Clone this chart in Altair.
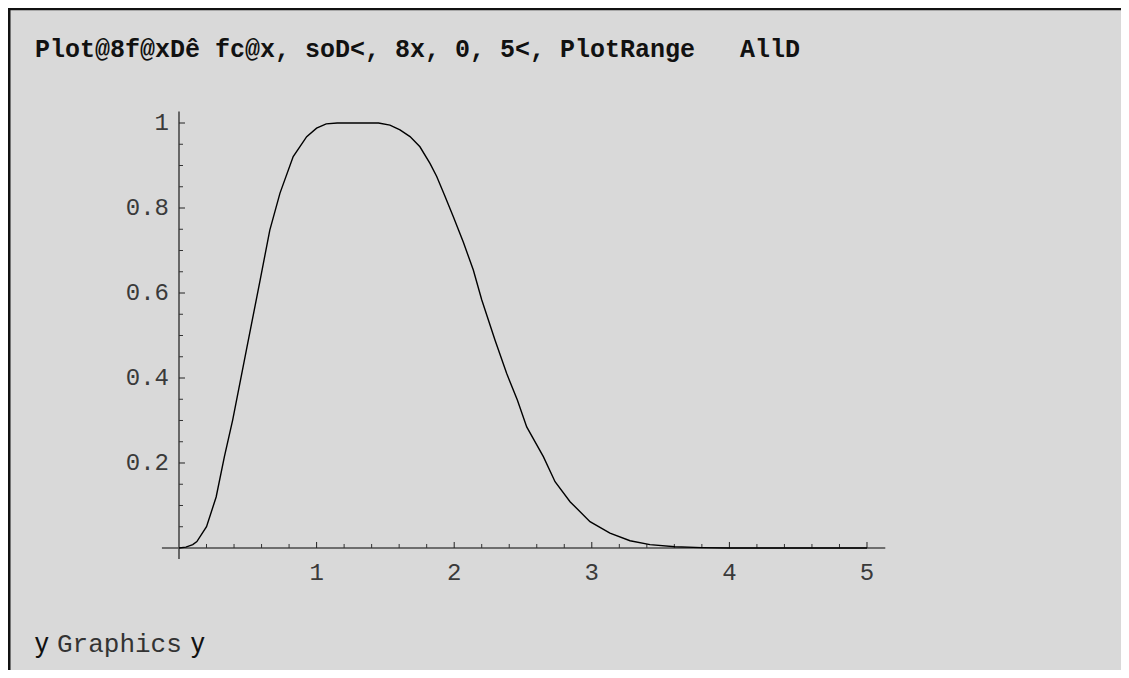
import altair as alt
import pandas as pd

# ---- data ----
curve_x = [0, 0.05, 0.1, 0.13, 0.2, 0.27, 0.33, 0.39, 0.49, 0.59, 0.66, 0.734, 0.83, 0.928,
           1.0, 1.07, 1.15, 1.25, 1.35, 1.45, 1.533, 1.606, 1.679, 1.751, 1.824, 1.873, 1.93,
           1.993, 2.066, 2.139, 2.2, 2.297, 2.381, 2.459, 2.527, 2.648, 2.733, 2.842, 2.987,
           3.132, 3.278, 3.423, 3.605, 3.8, 4.0, 4.5, 5.0]
curve_y = [0, 0.002, 0.008, 0.015, 0.05, 0.12, 0.215, 0.301, 0.466, 0.631, 0.748, 0.835, 0.921, 0.968,
           0.988, 0.998, 1.0, 1.0, 1.0, 1.0, 0.995, 0.984, 0.968, 0.944, 0.905, 0.874, 0.83,
           0.78, 0.72, 0.654, 0.584, 0.489, 0.411, 0.348, 0.285, 0.215, 0.156, 0.109, 0.062,
           0.035, 0.017, 0.008, 0.003, 0.001, 0.0, 0.0, 0.0]

x_major = [1, 2, 3, 4, 5]
x_major_labels = ["1", "2", "3", "4", "5"]
x_minor = [0.2, 0.4, 0.6, 0.8, 1.2, 1.4, 1.6, 1.8, 2.2, 2.4, 2.6, 2.8,
           3.2, 3.4, 3.6, 3.8, 4.2, 4.4, 4.6, 4.8]
y_major = [0.2, 0.4, 0.6, 0.8, 1.0]
y_major_labels = ["0.2", "0.4", "0.6", "0.8", "1"]
y_minor = [0.05, 0.1, 0.15, 0.25, 0.3, 0.35, 0.45, 0.5, 0.55, 0.65, 0.7, 0.75,
           0.85, 0.9, 0.95]
x_axis_extent = [-0.124, 5.133]
y_axis_extent = [-0.026, 1.027]

# non-breaking spaces keep the wide gap (SVG collapses ordinary runs of spaces)
title_text = "Plot@8f@xDê fc@x, soD<, 8x, 0, 5<, PlotRange\u00a0\u00a0\u00a0AllD"
footer_y = "y"
footer_word = "Graphics"

# ---- layout (fits the page without overflow) ----
W, H = 1113, 662
BG = "#d9d9d9"
xscale = alt.Scale(domain=[-1.2427, 6.8460], nice=False, zero=False)
yscale = alt.Scale(domain=[-0.28706, 1.27059], nice=False, zero=False)


def X(field="x"):
    return alt.X(f"{field}:Q", scale=xscale, axis=None)


def Y(field="y"):
    return alt.Y(f"{field}:Q", scale=yscale, axis=None)


curve_df = pd.DataFrame({"x": curve_x, "y": curve_y})
curve = alt.Chart(curve_df).mark_line(color="black", strokeWidth=1.4).encode(
    x=X(), y=Y(), order="x:Q")

xaxis_df = pd.DataFrame({"x": [x_axis_extent[0]], "x2": [x_axis_extent[1]], "y": [0]})
xaxis = alt.Chart(xaxis_df).mark_rule(color="#4a4a4a", strokeWidth=1.4).encode(
    x=X(), x2="x2:Q", y=Y())
yaxis_df = pd.DataFrame({"x": [0], "y": [y_axis_extent[0]], "y2": [y_axis_extent[1]]})
yaxis = alt.Chart(yaxis_df).mark_rule(color="#5a5a5a", strokeWidth=1.8).encode(
    x=X(), y=Y(), y2="y2:Q")

xmaj_df = pd.DataFrame({"x": x_major, "y": [0] * len(x_major), "label": x_major_labels})
xmin_df = pd.DataFrame({"x": x_minor, "y": [0] * len(x_minor)})
ymaj_df = pd.DataFrame({"y": y_major, "x": [0] * len(y_major), "label": y_major_labels})
ymin_df = pd.DataFrame({"y": y_minor, "x": [0] * len(y_minor)})

xmaj_ticks = alt.Chart(xmaj_df).mark_rule(color="#222", strokeWidth=1, y2Offset=-6).encode(
    x=X(), y=Y(), y2="y:Q")
xmin_ticks = alt.Chart(xmin_df).mark_rule(color="#333", strokeWidth=1, y2Offset=-4).encode(
    x=X(), y=Y(), y2="y:Q")
ymaj_ticks = alt.Chart(ymaj_df).mark_rule(color="#222", strokeWidth=1, x2Offset=6).encode(
    x=X(), x2="x:Q", y=Y())
ymin_ticks = alt.Chart(ymin_df).mark_rule(color="#333", strokeWidth=1, x2Offset=4).encode(
    x=X(), x2="x:Q", y=Y())

xlabels = alt.Chart(xmaj_df).mark_text(
    font="Liberation Mono", fontSize=24, color="#3a3a3a", align="center", baseline="top", dy=13
).encode(x=X(), y=Y(), text="label:N")
ylabels = alt.Chart(ymaj_df).mark_text(
    font="Liberation Mono", fontSize=24, color="#3a3a3a", align="right", baseline="middle", dx=-10
).encode(x=X(), y=Y(), text="label:N")

# ---- frame and texts ----
top_border = alt.Chart(pd.DataFrame({"k": [0]})).mark_rule(color="#111", strokeWidth=2.5).encode(
    x=alt.value(0), x2=alt.value(W), y=alt.value(1))
left_border = alt.Chart(pd.DataFrame({"k": [0]})).mark_rule(color="#111", strokeWidth=3).encode(
    x=alt.value(1), y=alt.value(0), y2=alt.value(H))

text_df = pd.DataFrame({"t": [title_text]})
title = alt.Chart(text_df).mark_text(
    font="Liberation Mono", fontSize=25, fontWeight="bold", color="#111",
    align="left", baseline="alphabetic"
).encode(x=alt.value(27), y=alt.value(49), text="t:N")

foot_df = pd.DataFrame({"t": [footer_word], "y1": [footer_y]})
foot_word = alt.Chart(foot_df).mark_text(
    font="Liberation Mono", fontSize=26, color="#333", align="left", baseline="alphabetic"
).encode(x=alt.value(49), y=alt.value(644), text="t:N")
foot_y1 = alt.Chart(foot_df).mark_text(
    font="Liberation Sans", fontSize=27, color="#111", align="left", baseline="alphabetic"
).encode(x=alt.value(27), y=alt.value(644), text="y1:N")
foot_y2 = alt.Chart(foot_df).mark_text(
    font="Liberation Sans", fontSize=27, color="#111", align="left", baseline="alphabetic"
).encode(x=alt.value(183), y=alt.value(644), text="y1:N")

chart = alt.layer(
    xaxis, yaxis, xmin_ticks, xmaj_ticks, ymin_ticks, ymaj_ticks, xlabels, ylabels, curve,
    top_border, left_border, title, foot_y1, foot_word, foot_y2
).properties(
    width=W, height=H, autosize=alt.AutoSizeParams(type="none"), padding=0, background=BG
).configure_view(stroke=None)

chart.save("out.html", embed_options={"renderer": "svg", "actions": False})
